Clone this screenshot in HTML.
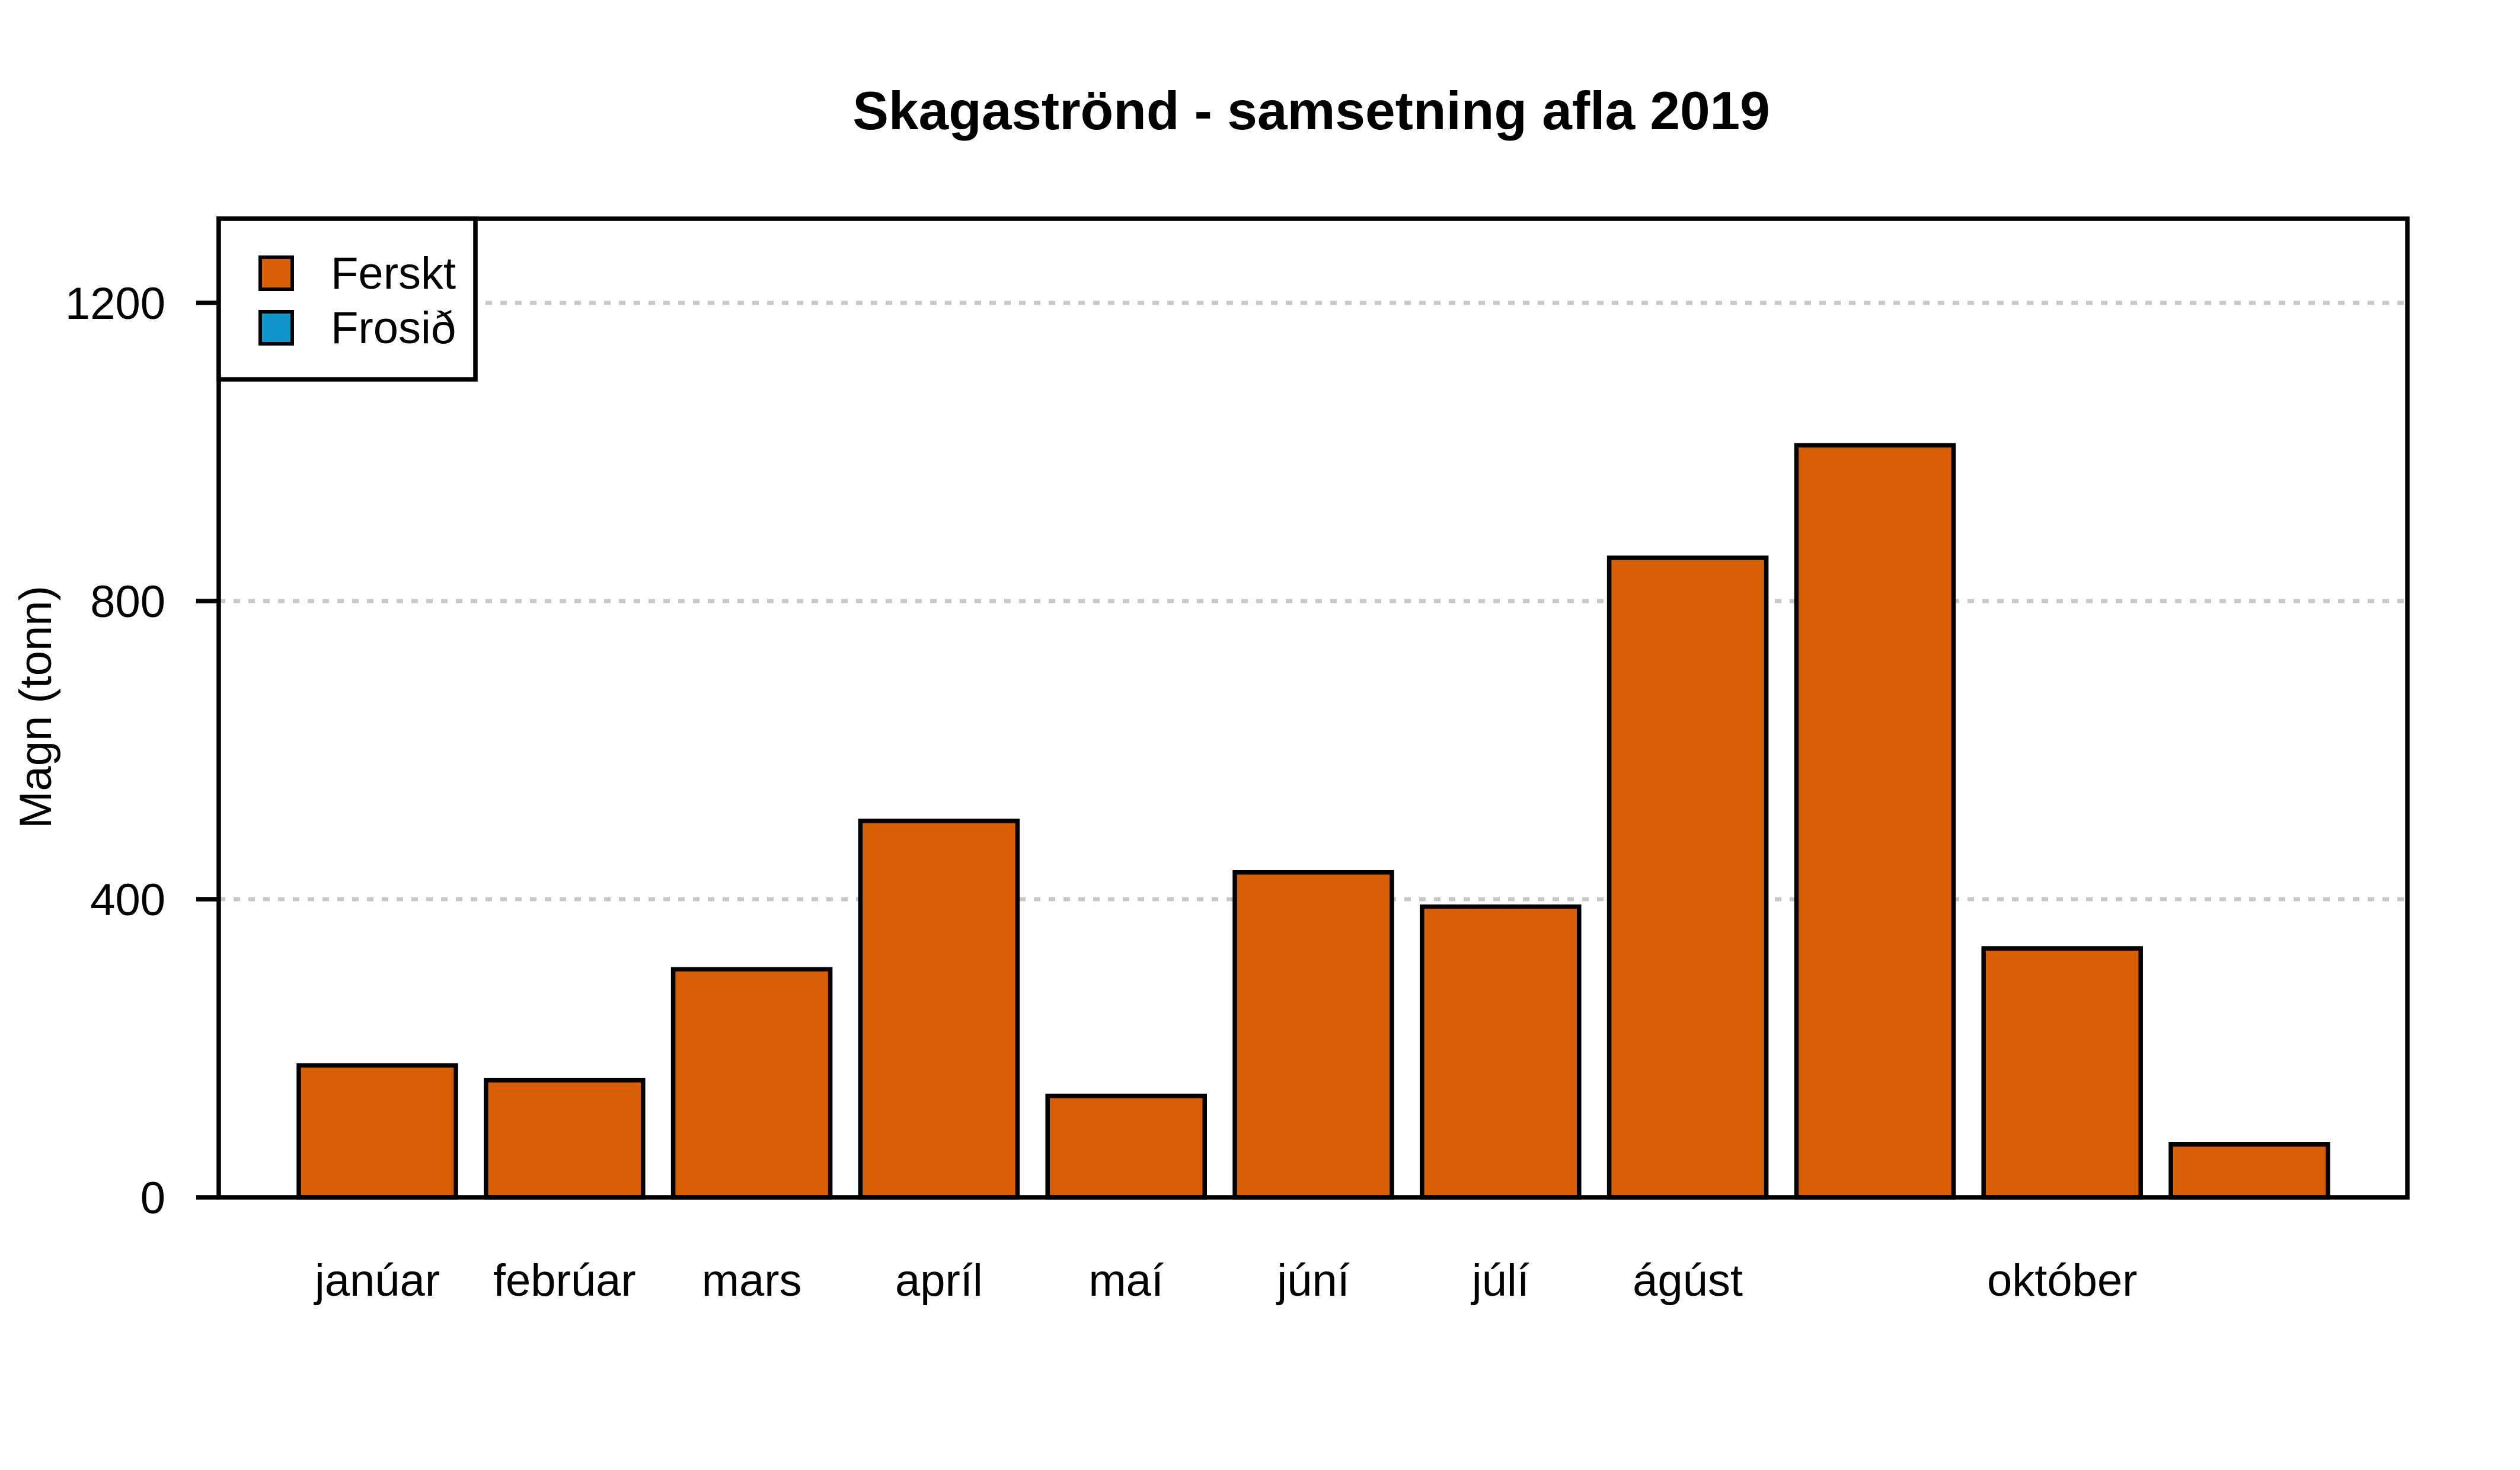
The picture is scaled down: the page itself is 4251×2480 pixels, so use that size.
<!DOCTYPE html>
<html><head><meta charset="utf-8"><style>
html,body{margin:0;padding:0;background:#fff;}
svg{display:block;font-family:"Liberation Sans",Arial,sans-serif;}
</style></head><body>
<svg id="chart" width="4251" height="2480" viewBox="0 0 4251 2480">
<text x="2212" y="218" font-size="91" font-weight="bold" text-anchor="middle">Skagaströnd - samsetning afla  2019</text>
<text transform="translate(86,1193) rotate(-90)" font-size="76" text-anchor="middle">Magn (tonn)</text>
<g id="grid"></g>
<g id="bars"></g>
<g id="yaxis"></g>
<g id="xlabels"></g>
<rect x="369" y="369" width="3692" height="1651" fill="none" stroke="#000" stroke-width="7.5"/>
<g>
<rect x="369" y="369" width="433" height="271" fill="#fff" stroke="#000" stroke-width="7.5"/>
<rect x="439" y="434" width="54" height="54" fill="#d95f07" stroke="#000" stroke-width="6"/>
<text x="558" y="487" font-size="76">Ferskt</text>
<rect x="439" y="526" width="54" height="54" fill="#0e95c9" stroke="#000" stroke-width="6"/>
<text x="558" y="579" font-size="76">Frosið</text>
</g>
</svg>
<script>
const months = ["janúar","febrúar","mars","apríl","maí","júní","júlí","ágúst","september","október","nóvember"];
const showLabel = [true,true,true,true,true,true,true,true,false,true,false];
const ferskt = [177,157,306,505,136,436,390,858,1009,334,71];
const yTicks = [0,400,800,1200];
const NS="http://www.w3.org/2000/svg";
const y0=2020, pxPer=503/400;
function y(v){return y0 - v*pxPer;}
function xL(i){return 504 + i*315.8;}
const bw=265;
function mk(tag,attrs,parent){const e=document.createElementNS(NS,tag);for(const k in attrs)e.setAttribute(k,attrs[k]);parent.appendChild(e);return e;}
const grid=document.getElementById('grid'),bars=document.getElementById('bars'),ya=document.getElementById('yaxis'),xl=document.getElementById('xlabels');
yTicks.forEach(t=>{
  if(t>0){const g=mk('line',{x1:369,x2:4061,y1:y(t),y2:y(t),stroke:'#c8c8c8','stroke-width':7,'stroke-dasharray':'11,14'},grid);
  
  }
  const tk=mk('line',{x1:331,x2:369,y1:y(t),y2:y(t),stroke:'#000','stroke-width':7.5},ya);
  
  
  const tx=mk('text',{x:279,y:y(t)+27,'font-size':76,'text-anchor':'end'},ya);
  tx.textContent=t;
  
  
});
ferskt.forEach((v,i)=>{
  const r=mk('rect',{x:xL(i),y:y(v),width:bw,height:y0-y(v),fill:'#d95f07',stroke:'#000','stroke-width':7.5},bars);
  
  
  if(showLabel[i]){
    const t=mk('text',{x:xL(i)+bw/2,y:2186,'font-size':76,'text-anchor':'middle'},xl);
    t.textContent=months[i];
    
    
  }
});
</script>
</body></html>
